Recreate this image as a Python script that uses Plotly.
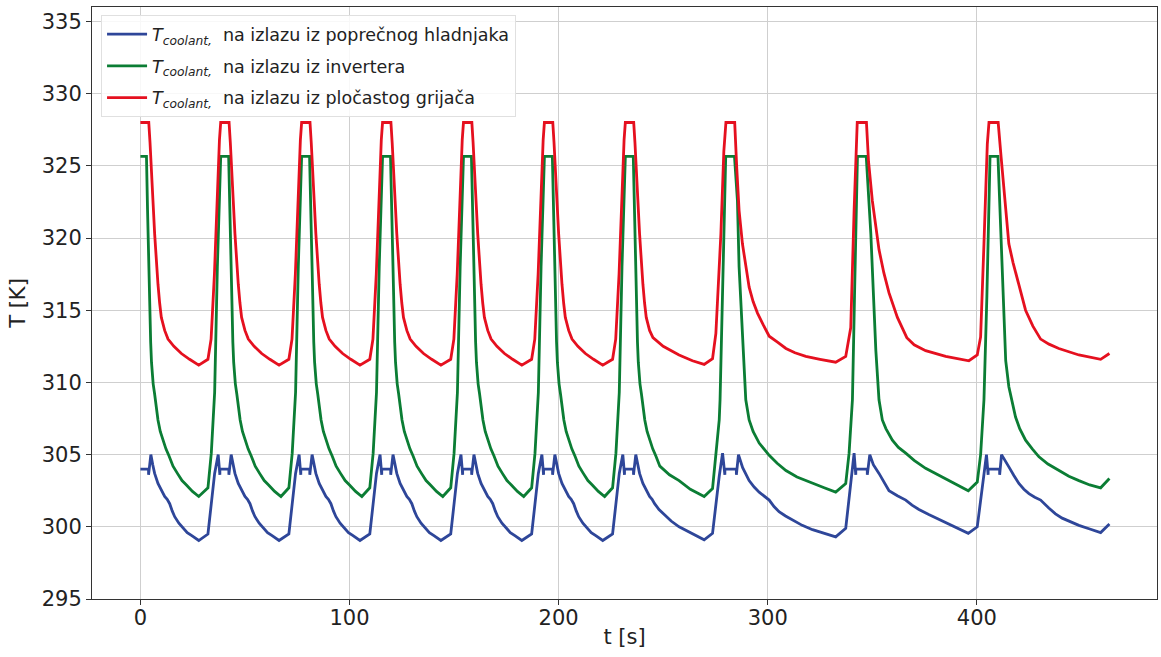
import plotly.graph_objects as go

# ---------------- data ----------------
# red-trace plateau start / end times (s) for the 10 pulses
P = [0.0, 38.4, 77.1, 115.8, 154.5, 193.2, 231.9, 280.0, 342.8, 405.8]
E = [4.0, 42.4, 81.1, 119.8, 158.5, 197.2, 235.9, 284.2, 347.2, 410.2]
# green-trace plateau ends
EG = [2.9, 42.2, 80.9, 119.6, 158.3, 197.0, 235.7, 284.1, 347.1, 410.1]

# short pulse shapes (first seven pulses) - offsets (s) and temperatures (K)
red_fall_dt = [0.0, 0.6, 1.3, 2.0, 2.8, 3.6, 4.4, 5.2, 6.0, 7.6, 9.2, 12.0, 15.6, 19.5, 23.9]
red_fall_T = [328.0, 326.6, 324.9, 322.6, 320.3, 318.4, 316.8, 315.5, 314.5, 313.6, 313.0,
              312.5, 312.0, 311.6, 311.2]
red_rise_dt = [-6.1, -4.6, -3.0, -1.8, -0.6, 0.0]
red_rise_T = [311.6, 313.0, 317.5, 322.8, 326.8, 328.0]

green_fall_dt = [0.0, 0.5, 1.0, 1.5, 2.0, 2.4, 2.8, 3.2, 3.9, 4.7, 5.5, 6.6, 7.9, 9.3, 10.8,
                 12.7, 14.8, 17.0, 19.1, 22.0, 25.0]
green_fall_T = [325.65, 322.0, 318.5, 315.2, 312.8, 311.4, 310.5, 309.9, 309.2, 308.2, 307.4,
                306.6, 306.0, 305.4, 304.9, 304.2, 303.7, 303.2, 302.9, 302.45, 302.1]
green_rise_dt = [-6.1, -4.5, -2.9, -1.6, 0.0]
green_rise_T = [302.7, 305.1, 309.3, 318.0, 325.65]

blue_rise_dt = [-6.1, -4.5, -2.9, -1.2, -0.4, -0.4]
blue_rise_T = [299.5, 301.4, 303.7, 305.0, 303.6, 304.0]
blue_fall_dt = [-0.1, -0.1, 1.0, 1.9, 2.8, 4.4, 6.0, 7.6, 8.8, 10.0, 11.2, 12.4, 14.4, 16.4,
                18.4, 20.4, 22.2, 23.9]
blue_fall_T = [304.0, 303.6, 305.0, 304.3, 303.7, 303.0, 302.5, 302.1, 301.9, 301.6, 301.1,
               300.7, 300.25, 299.9, 299.6, 299.4, 299.2, 299.05]

# longer pulses (tail of pulse 7 and pulses 8-10), read point by point
red_tail_t = [245.1, 250.0, 257.6, 264.0, 269.6, 273.6, 275.2, 277.6, 279.0, 280.0, 284.2,
              285.2, 286.3, 287.9, 289.5, 291.1, 293.0, 295.1, 297.8, 300.7, 304.5, 308.7,
              313.0, 318.2, 325.0, 332.5, 337.3, 339.7, 341.3, 342.2, 342.8, 347.2, 348.2,
              350.0, 351.6, 353.2, 355.5, 358.0, 362.0, 366.5, 370.0, 375.5, 385.1, 396.2,
              400.2, 401.8, 403.4, 405.0, 405.8, 410.2, 411.6, 413.0, 415.3, 417.3, 419.3,
              421.3, 423.3, 426.8, 430.5, 434.5, 439.2, 448.8, 459.2, 463.4]
red_tail_T = [313.1, 312.5, 311.9, 311.5, 311.25, 311.65, 313.4, 320.3, 326.0, 328.0, 328.0,
              324.8, 321.9, 319.6, 318.0, 316.6, 315.6, 314.8, 314.0, 313.2, 312.8, 312.35,
              312.05, 311.8, 311.6, 311.4, 311.8, 313.8, 321.9, 326.5, 328.0, 328.0, 325.3,
              322.6, 320.7, 319.2, 317.6, 316.2, 314.5, 313.1, 312.6, 312.2, 311.8, 311.5,
              311.9, 313.15, 319.6, 326.5, 328.0, 328.0, 325.6, 323.1, 319.6, 318.3, 317.2,
              316.0, 315.0, 313.9, 313.0, 312.65, 312.35, 311.9, 311.6, 312.0]

green_tail_t = [248.4, 253.0, 257.6, 263.0, 269.6, 273.6, 275.2, 276.8, 277.2, 278.4, 279.9,
                284.1, 285.5, 286.3, 287.9, 289.5, 291.1, 293.0, 295.9, 298.5, 300.7, 304.5,
                308.7, 314.0, 321.4, 327.0, 332.5, 337.3, 338.9, 340.5, 341.5, 342.9, 347.1,
                349.3, 351.7, 353.2, 354.8, 356.5, 359.6, 362.5, 366.0, 370.0, 375.5, 380.0,
                385.1, 390.0, 395.9, 400.2, 401.8, 403.4, 404.8, 406.3, 410.1, 412.1, 413.8,
                415.3, 418.5, 420.5, 423.3, 426.5, 429.7, 434.0, 439.2, 444.0, 448.8, 454.0,
                459.2, 463.4]
green_tail_T = [304.2, 303.6, 303.2, 302.6, 302.1, 302.65, 305.1, 307.4, 308.8, 315.7, 325.65,
                325.65, 322.6, 318.0, 313.4, 308.8, 307.4, 306.6, 305.8, 305.3, 304.95, 304.4,
                303.9, 303.45, 303.0, 302.7, 302.4, 303.0, 305.1, 308.8, 316.0, 325.65, 325.65,
                320.3, 312.2, 308.8, 307.4, 306.8, 306.0, 305.5, 305.1, 304.6, 304.05, 303.7,
                303.35, 302.95, 302.5, 303.1, 305.0, 308.8, 316.0, 325.65, 325.65, 318.0,
                311.5, 309.7, 307.6, 306.8, 306.0, 305.4, 304.85, 304.35, 303.9, 303.5, 303.2,
                302.9, 302.7, 303.35]

blue_tail_t = [245.9, 248.0, 250.0, 253.8, 257.6, 264.0, 269.6, 273.6, 275.2, 276.8, 278.4,
               279.5, 279.5, 285.0, 285.0, 286.0, 288.0, 291.1, 293.5, 295.9, 298.3, 300.7,
               303.0, 305.4, 308.5, 311.8, 316.5, 321.4, 327.0, 332.5, 337.3, 339.5, 341.3,
               342.1, 342.1, 347.6, 347.6, 348.8, 350.5, 353.2, 355.6, 358.0, 362.0, 366.0,
               369.0, 372.3, 377.0, 381.9, 389.0, 395.9, 400.2, 402.6, 404.6, 405.4, 405.4,
               410.9, 410.9, 411.8, 413.5, 415.3, 417.7, 420.1, 422.5, 424.9, 427.7, 430.5,
               434.4, 437.6, 440.8, 444.8, 448.8, 454.0, 459.2, 463.4]
blue_tail_T = [301.6, 301.2, 300.9, 300.4, 300.0, 299.5, 299.1, 299.55, 301.6, 303.5, 305.1,
               303.6, 304.0, 304.0, 303.6, 305.0, 304.1, 303.2, 302.75, 302.4, 302.1, 301.85,
               301.4, 301.05, 300.75, 300.5, 300.1, 299.8, 299.55, 299.3, 299.9, 302.8, 305.1,
               303.6, 304.0, 304.0, 303.6, 305.0, 304.3, 303.7, 303.05, 302.5, 302.15, 301.85,
               301.5, 301.2, 300.85, 300.5, 300.0, 299.55, 300.0, 302.8, 305.0, 303.6, 304.0,
               304.0, 303.6, 305.0, 304.55, 304.15, 303.55, 303.0, 302.6, 302.3, 302.05, 301.85,
               301.3, 300.9, 300.6, 300.35, 300.1, 299.85, 299.6, 300.2]

series_names = [
    "<i>T</i><sub><i>coolant,</i></sub>  na izlazu iz poprečnog hladnjaka",
    "<i>T</i><sub><i>coolant,</i></sub>  na izlazu iz invertera",
    "<i>T</i><sub><i>coolant,</i></sub>  na izlazu iz pločastog grijača",
]
series_colors = ["#2E4699", "#0B7D34", "#E5101F"]

x_ticks = [0, 100, 200, 300, 400]
y_ticks = [295, 300, 305, 310, 315, 320, 325, 330, 335]

# ---------------- assemble the traces ----------------
def assemble(first_T, rise_dt, rise_T, fall_dt, fall_T, fall_ref, fall_cut, tail_t, tail_T):
    t, v = [0.0], [first_T]
    for k in range(7):
        if k > 0:
            t += [P[k] + d for d in rise_dt]
            v += list(rise_T)
        for d, T in zip(fall_dt, fall_T):
            if k == 6 and d >= fall_cut:
                break
            t.append(fall_ref[k] + d)
            v.append(T)
    return t + tail_t, v + tail_T

red_t, red_v = assemble(328.0, red_rise_dt, red_rise_T, red_fall_dt, red_fall_T, E, 9.2,
                        red_tail_t, red_tail_T)
green_t, green_v = assemble(325.65, green_rise_dt, green_rise_T, green_fall_dt, green_fall_T,
                            EG, 12.7, green_tail_t, green_tail_T)
blue_t, blue_v = assemble(304.0, blue_rise_dt, blue_rise_T, blue_fall_dt, blue_fall_T, E, 10.0,
                          blue_tail_t, blue_tail_T)

fig = go.Figure()
for i, ((tt, vv), name, col) in enumerate(zip([(blue_t, blue_v), (green_t, green_v),
                                                (red_t, red_v)], series_names, series_colors)):
    fig.add_trace(go.Scatter(x=tt, y=vv, mode="lines", name=name, legendgroup=f"g{i}",
                             line=dict(color=col, width=2.8)))

axis_common = dict(
    showgrid=True, gridcolor="#cfcfcf", gridwidth=1,
    showline=True, linecolor="#333333", linewidth=1, mirror=True,
    ticks="outside", ticklen=5, tickcolor="#333333", tickwidth=1,
    tickfont=dict(family="DejaVu Sans", size=21, color="#222222"),
    zeroline=False,
)
fig.update_xaxes(range=[-23.15, 486.15], tickvals=x_ticks, ticklabelstandoff=-5,
                 title=dict(text="t [s]", standoff=0,
                            font=dict(family="DejaVu Sans", size=21, color="#222222")),
                 **axis_common)
fig.update_yaxes(range=[295, 336], tickvals=y_ticks,
                 title=dict(text="T [K]", standoff=10,
                            font=dict(family="DejaVu Sans", size=21, color="#222222")),
                 **axis_common)

fig.update_layout(
    width=1161, height=657,
    margin=dict(l=92, r=4, t=7, b=58),
    plot_bgcolor="white", paper_bgcolor="white",
    font=dict(family="DejaVu Sans", color="#222222"),
    showlegend=True,
    legend=dict(x=0.0085, y=0.986, xanchor="left", yanchor="top",
                bgcolor="rgba(255,255,255,0.85)", bordercolor="#e0e0e0", borderwidth=1,
                font=dict(family="DejaVu Sans", size=17.5, color="#222222"),
                itemwidth=40, tracegroupgap=6),
)

fig.write_html("out.html", config={"displayModeBar": False},
               post_script="document.body.style.margin='0';")
